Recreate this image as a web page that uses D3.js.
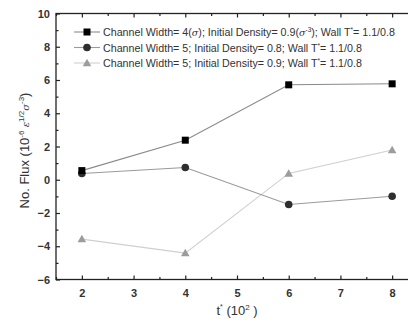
<!DOCTYPE html>
<html>
<head>
<meta charset="utf-8">
<script src="https://cdn.jsdelivr.net/npm/d3@7"></script>
<style>
  html, body { margin: 0; padding: 0; background: #fff; }
  svg { display: block; font-family: "Liberation Sans", Arial, sans-serif; }
</style>
</head>
<body>
<svg id="chart" width="408" height="322"></svg>
<script>
// Simulation time steps (t*, in units of 10^2)
const times = [2, 4, 6, 8];

// Number flux (10^-6 ε^1/2 σ^-3) for each simulation set
const fluxW4D09 = [0.55, 2.38, 5.71, 5.77];
const fluxW5D08 = [0.38, 0.74, -1.49, -0.99];
const fluxW5D09 = [-3.57, -4.41, 0.38, 1.79];

const xTicks = [2, 3, 4, 5, 6, 7, 8];
const yTicks = [-6, -4, -2, 0, 2, 4, 6, 8, 10];

const series = [
  { values: fluxW4D09, shape: "square",   marker: "#000",    line: "#8a8a8a",
    label: ["Channel Width= 4(", {t: "σ", i: true}, "); Initial Density= 0.9(", {t: "σ", i: true}, {t: "-3", sup: true}, "); Wall T", {t: "*", sup: true}, "= 1.1/0.8"] },
  { values: fluxW5D08, shape: "circle",   marker: "#2e2e2e", line: "#9a9a9a",
    label: ["Channel Width= 5; Initial Density= 0.8; Wall T", {t: "*", sup: true}, "= 1.1/0.8"] },
  { values: fluxW5D09, shape: "triangle", marker: "#9c9c9c", line: "#cfcfcf",
    label: ["Channel Width= 5; Initial Density= 0.9; Wall T", {t: "*", sup: true}, "= 1.1/0.8"] }
];

const svg = d3.select("#chart");
const plotLeft = 56, plotRight = 418, plotTop = 13.5, plotBottom = 279.5;

const x = d3.scaleLinear().domain([1.5, 8.5]).range([plotLeft, plotRight]);
const y = d3.scaleLinear().domain([-6, 10]).range([plotBottom, plotTop]);

const axisColor = "#222";
const textColor = "#333";

// Frame
svg.append("rect")
  .attr("x", plotLeft).attr("y", plotTop)
  .attr("width", plotRight - plotLeft).attr("height", plotBottom - plotTop)
  .attr("fill", "none").attr("stroke", axisColor).attr("stroke-width", 1.3);

// Inward ticks on all sides, majors and minors
const xMinor = d3.range(1.5, 8.51, 0.5).filter(v => !xTicks.includes(v));
const yMinor = d3.range(-5, 10, 2);

function styleAxis(g) {
  g.select(".domain").remove();
  g.selectAll(".tick line").attr("stroke", axisColor).attr("stroke-width", 1.2);
  g.selectAll("text").attr("fill", textColor).attr("font-size", 11).attr("font-weight", "bold");
}

svg.append("g").attr("transform", `translate(0,${plotBottom})`)
  .call(d3.axisBottom(x).tickValues(xTicks).tickFormat(d3.format("d")).tickSizeInner(-4).tickSizeOuter(0).tickPadding(10))
  .call(styleAxis);
svg.append("g").attr("transform", `translate(0,${plotBottom})`)
  .call(d3.axisBottom(x).tickValues(xMinor).tickFormat("").tickSizeInner(-2.5).tickSizeOuter(0))
  .call(styleAxis);
svg.append("g").attr("transform", `translate(0,${plotTop})`)
  .call(d3.axisTop(x).tickValues(xTicks).tickFormat("").tickSizeInner(-4).tickSizeOuter(0))
  .call(styleAxis);
svg.append("g").attr("transform", `translate(0,${plotTop})`)
  .call(d3.axisTop(x).tickValues(xMinor).tickFormat("").tickSizeInner(-2.5).tickSizeOuter(0))
  .call(styleAxis);

svg.append("g").attr("transform", `translate(${plotLeft},0)`)
  .call(d3.axisLeft(y).tickValues(yTicks).tickFormat(d3.format("d")).tickSizeInner(-4).tickSizeOuter(0).tickPadding(6))
  .call(styleAxis);
svg.append("g").attr("transform", `translate(${plotLeft},0)`)
  .call(d3.axisLeft(y).tickValues(yMinor).tickFormat("").tickSizeInner(-2.5).tickSizeOuter(0))
  .call(styleAxis);

// Series lines and markers
const line = d3.line().x((d, i) => x(times[i])).y(d => y(d));

function drawMarker(g, shape, cx, cy, color) {
  if (shape === "square") {
    g.append("rect").attr("x", cx - 3.5).attr("y", cy - 3.5).attr("width", 7).attr("height", 7).attr("fill", color);
  } else if (shape === "circle") {
    g.append("circle").attr("cx", cx).attr("cy", cy).attr("r", 3.8).attr("fill", color);
  } else {
    const s = 4.3;
    g.append("path").attr("d", `M${cx},${cy - s}L${cx + s},${cy + s * 0.75}L${cx - s},${cy + s * 0.75}Z`).attr("fill", color);
  }
}

// Draw in reverse so the black series sits on top
series.slice().reverse().forEach(s => {
  svg.append("path").datum(s.values)
    .attr("d", line).attr("fill", "none").attr("stroke", s.line).attr("stroke-width", 1.1);
});
series.slice().reverse().forEach(s => {
  const g = svg.append("g");
  s.values.forEach((v, i) => drawMarker(g, s.shape, x(times[i]), y(v), s.marker));
});

// Legend
const legend = svg.append("g");
series.forEach((s, i) => {
  const ly = 32 + i * 15.5;
  legend.append("line").attr("x1", 74).attr("x2", 100).attr("y1", ly).attr("y2", ly)
    .attr("stroke", s.line).attr("stroke-width", 1.1);
  drawMarker(legend, s.shape, 87, ly, s.marker);
  const t = legend.append("text").attr("x", 103).attr("y", ly + 4)
    .attr("font-size", 10.7).attr("fill", textColor);
  let raised = false;
  s.label.forEach(part => {
    const shift = raised ? 4 : 0;
    if (typeof part === "string") {
      t.append("tspan").attr("dy", shift).text(part);
      raised = false;
    } else if (part.sup) {
      t.append("tspan").attr("font-size", 6.5).attr("dy", shift - 4).text(part.t);
      raised = true;
    } else {
      t.append("tspan").attr("dy", shift).attr("font-family", "DejaVu Serif").attr("font-style", "italic").attr("font-size", 9.5).text(part.t);
      raised = false;
    }
  });
});

// Axis titles
const yTitle = svg.append("text")
  .attr("transform", `translate(29,${(plotTop + plotBottom) / 2 + 4}) rotate(-90)`)
  .attr("text-anchor", "middle").attr("font-size", 13).attr("fill", textColor);
yTitle.append("tspan").text("No. Flux (10");
yTitle.append("tspan").attr("font-size", 8).attr("dy", -5).text("-6");
yTitle.append("tspan").attr("font-family", "DejaVu Serif").attr("font-style", "italic").attr("font-size", 10).attr("dy", 5).text(" ε");
yTitle.append("tspan").attr("font-size", 8).attr("dy", -5).text("1/2");
yTitle.append("tspan").attr("font-family", "DejaVu Serif").attr("font-style", "italic").attr("font-size", 10).attr("dy", 5).text("σ");
yTitle.append("tspan").attr("font-size", 8).attr("dy", -5).text("-3");
yTitle.append("tspan").attr("dy", 5).text(")");

const xTitle = svg.append("text")
  .attr("x", 237).attr("y", 315)
  .attr("text-anchor", "middle").attr("font-size", 13).attr("fill", textColor);
xTitle.append("tspan").text("t");
xTitle.append("tspan").attr("font-size", 7).attr("dy", -6).text("*");
xTitle.append("tspan").attr("dy", 6).text(" (10");
xTitle.append("tspan").attr("font-size", 8).attr("dy", -5).text("2");
xTitle.append("tspan").attr("dy", 5).text(" )");
</script>
</body>
</html>
